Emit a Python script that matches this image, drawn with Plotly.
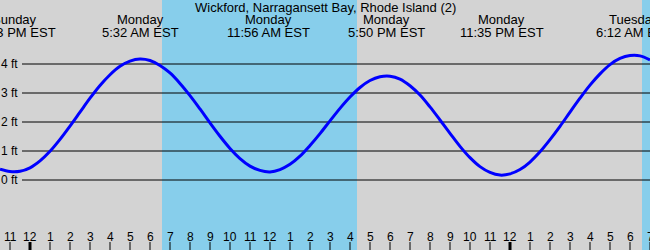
import plotly.graph_objects as go

# ---- data (hours from Monday 00:00 EST, half-hour readings) ----
tide_hours = [-1.5, -1.0, -0.5, 0.0, 0.5, 1.0, 1.5, 2.0, 2.5, 3.0, 3.5, 4.0, 4.5, 5.0, 5.5,
              6.0, 6.5, 7.0, 7.5, 8.0, 8.5, 9.0, 9.5, 10.0, 10.5, 11.0, 11.5,
              12.0, 12.5, 13.0, 13.5, 14.0, 14.5, 15.0, 15.5, 16.0, 16.5, 17.0, 17.5,
              18.0, 18.5, 19.0, 19.5, 20.0, 20.5, 21.0, 21.5, 22.0, 22.5, 23.0, 23.5,
              24.0, 24.5, 25.0, 25.5, 26.0, 26.5, 27.0, 27.5, 28.0, 28.5, 29.0, 29.5,
              30.0, 30.5, 31.0]
tide_feet = [0.37, 0.29, 0.30, 0.42, 0.66, 0.99, 1.40, 1.86, 2.34, 2.82, 3.26, 3.63, 3.92, 4.10, 4.17,
             4.12, 3.95, 3.69, 3.33, 2.91, 2.45, 1.97, 1.51, 1.09, 0.74, 0.48, 0.33,
             0.28, 0.36, 0.54, 0.82, 1.19, 1.60, 2.04, 2.47, 2.86, 3.19, 3.43, 3.56,
             3.58, 3.48, 3.25, 2.93, 2.52, 2.07, 1.61, 1.16, 0.77, 0.46, 0.26, 0.17,
             0.21, 0.36, 0.62, 0.97, 1.39, 1.85, 2.34, 2.82, 3.27, 3.66, 3.98, 4.19,
             4.29, 4.28, 4.14]

extreme_hours = [-0.78, 5.533, 11.933, 17.833, 23.583, 30.2]
extreme_days = ["Sunday", "Monday", "Monday", "Monday", "Monday", "Tuesday"]
extreme_times = ["11:13 PM EST", "5:32 AM EST", "11:56 AM EST", "5:50 PM EST", "11:35 PM EST", "6:12 AM EST"]

daylight_start = [6.6, 30.6]
daylight_end = [16.35, 33.0]

feet_ticks = [0, 1, 2, 3, 4]
feet_labels = ["0 ft", "1 ft", "2 ft", "3 ft", "4 ft"]

hour_ticks = list(range(-1, 32))
midnights = [0, 24]

title = "Wickford, Narragansett Bay, Rhode Island (2)"

# ---- figure ----
W, H = 650, 250
FONT = "Liberation Sans, Arial, sans-serif"
GREY = "#d3d3d3"
SKY = "#87ceeb"

def py(px):
    return 1 - px / H

fig = go.Figure()
fig.add_trace(go.Scatter(x=tide_hours, y=tide_feet, mode="lines",
                         line=dict(color="#0000ff", width=3, shape="spline", smoothing=1.0),
                         hoverinfo="skip", showlegend=False))

shapes = []
for s, e in zip(daylight_start, daylight_end):
    shapes.append(dict(type="rect", xref="x", yref="paper", x0=s, x1=e, y0=0, y1=1,
                       fillcolor=SKY, line=dict(width=0), layer="below"))
for f in feet_ticks:
    shapes.append(dict(type="line", xref="paper", yref="y", x0=22 / W, x1=1, y0=f, y1=f,
                       line=dict(color="black", width=1), layer="below"))
for h in hour_ticks:
    shapes.append(dict(type="line", xref="x", yref="paper", x0=h, x1=h, y0=0, y1=8 / H,
                       line=dict(color="black", width=3 if h in midnights else 1)))

ann = []
ann.append(dict(text=title, x=0.5, y=py(7), xref="paper", yref="paper", showarrow=False,
                xanchor="center", yanchor="middle", font=dict(family=FONT, size=13, color="black")))
for t, d, s in zip(extreme_hours, extreme_days, extreme_times):
    ann.append(dict(text=d, x=t, y=py(20), xref="x", yref="paper", showarrow=False,
                    xanchor="center", yanchor="middle", font=dict(family=FONT, size=13, color="black")))
    ann.append(dict(text=s, x=t, y=py(32.5), xref="x", yref="paper", showarrow=False,
                    xanchor="center", yanchor="middle", font=dict(family=FONT, size=13, color="black")))
for f, lab in zip(feet_ticks, feet_labels):
    ann.append(dict(text=lab, x=20 / W, y=f, xref="paper", yref="y", showarrow=False,
                    xanchor="right", yanchor="middle", font=dict(family=FONT, size=12, color="black")))
for h in hour_ticks:
    ann.append(dict(text=str(h % 12 or 12), x=h, y=py(236.5), xref="x", yref="paper", showarrow=False,
                    xanchor="center", yanchor="middle", font=dict(family=FONT, size=12, color="black")))

fig.update_layout(
    width=W, height=H, margin=dict(l=0, r=0, t=0, b=0),
    paper_bgcolor=GREY, plot_bgcolor=GREY,
    xaxis=dict(range=[-1.5, 31.0], visible=False, fixedrange=True),
    yaxis=dict(range=[-70 / 29, 180 / 29], visible=False, fixedrange=True),
    shapes=shapes, annotations=ann, showlegend=False,
)
fig.write_html("out.html", config={"displayModeBar": False})
